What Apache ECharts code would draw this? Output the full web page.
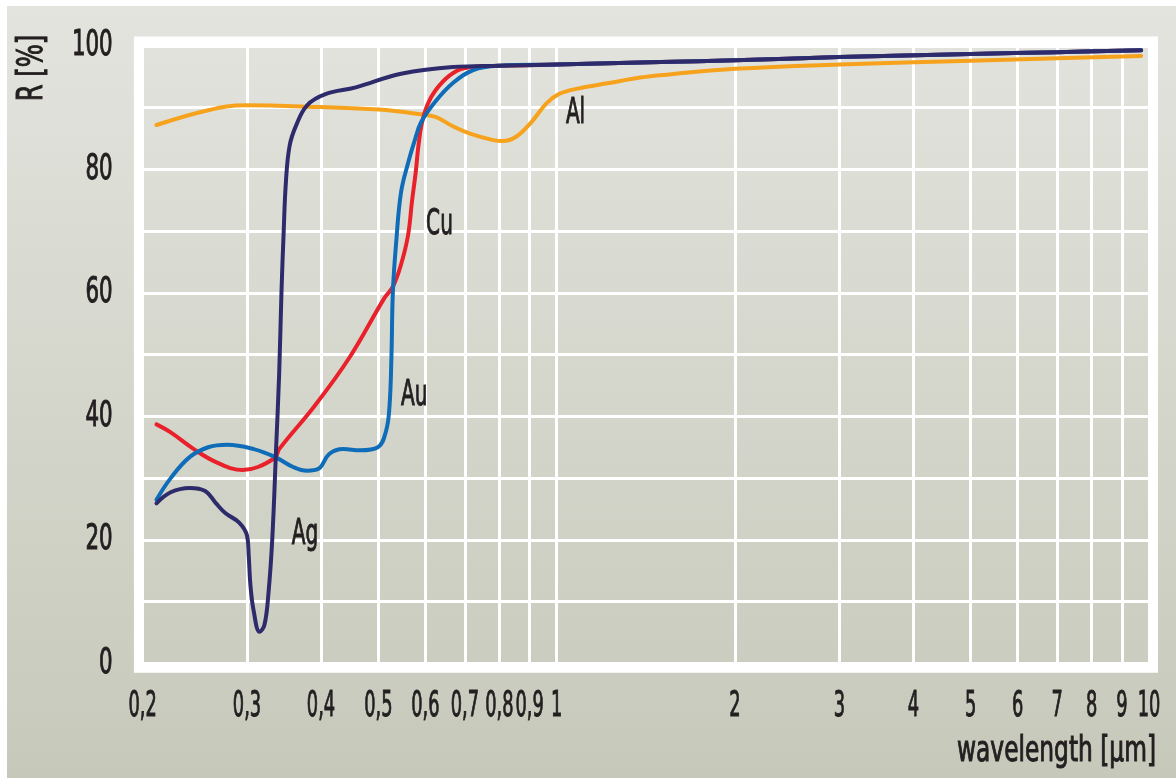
<!DOCTYPE html>
<html>
<head>
<meta charset="utf-8">
<title>Reflectance of metals</title>
<script src="https://cdn.jsdelivr.net/npm/echarts@6/dist/echarts.min.js"></script>
<style>
  html, body { margin: 0; padding: 0; background: #ffffff; }
  #chart { width: 1176px; height: 778px; }
</style>
</head>
<body>
<div id="chart"></div>
<script>
// Reflectance R [%] of metal mirror coatings versus wavelength [µm]

// Tick values on the logarithmic wavelength axis and on the reflectance axis
const waveTicks = [0.2, 0.3, 0.4, 0.5, 0.6, 0.7, 0.8, 0.9, 1, 2, 3, 4, 5, 6, 7, 8, 9, 10];
const reflTicks = [0, 20, 40, 60, 80, 100];

// Silver
const agWave = [0.211, 0.223, 0.240, 0.255, 0.266, 0.276, 0.291, 0.300, 0.302, 0.304, 0.308, 0.315, 0.321, 0.326, 0.331, 0.336, 0.340, 0.343, 0.346, 0.349, 0.354, 0.363, 0.379, 0.407, 0.458, 0.546, 0.668, 0.8, 1.0, 1.5, 2, 3, 5, 7, 9.7];
const agR    = [25.9, 27.7, 28.4, 27.9, 25.9, 24.3, 22.8, 20.7, 17.5, 12.7, 8.4, 5.1, 6.2, 11.2, 20.2, 35.0, 47.0, 60.0, 70.0, 78.0, 83.8, 87.1, 90.4, 92.2, 93.3, 95.5, 96.6, 96.8, 97.0, 97.4, 97.7, 98.2, 98.7, 99.0, 99.3];

// Copper
const cuWave = [0.211, 0.223, 0.244, 0.266, 0.295, 0.313, 0.335, 0.340, 0.391, 0.448, 0.512, 0.529, 0.546, 0.561, 0.570, 0.578, 0.584, 0.592, 0.605, 0.624, 0.659, 0.698, 0.8, 1.0, 1.5, 2, 3, 5, 7, 9.7];
const cuR    = [38.7, 37.4, 34.7, 32.6, 31.3, 31.8, 33.4, 34.7, 41.8, 49.7, 59.2, 61.0, 64.6, 69.3, 75.0, 79.5, 83.7, 87.5, 90.5, 92.8, 95.2, 96.4, 96.8, 97.0, 97.4, 97.7, 98.2, 98.7, 99.0, 99.3];

// Gold
const auWave = [0.211, 0.223, 0.240, 0.258, 0.278, 0.308, 0.335, 0.359, 0.379, 0.396, 0.413, 0.436, 0.466, 0.499, 0.515, 0.522, 0.526, 0.529, 0.536, 0.546, 0.561, 0.575, 0.590, 0.624, 0.668, 0.723, 0.8, 1.0, 1.5, 2, 3, 5, 7, 9.7];
const auR    = [26.5, 30.0, 33.4, 35.0, 35.4, 34.7, 33.4, 31.8, 31.2, 31.5, 33.9, 34.7, 34.5, 35.0, 37.6, 41.6, 49.7, 60.3, 68.4, 76.3, 81.0, 84.5, 87.6, 91.0, 94.0, 96.1, 96.8, 97.0, 97.4, 97.7, 98.2, 98.7, 99.0, 99.3];

// Aluminium
const alWave = [0.211, 0.258, 0.298, 0.4, 0.5, 0.584, 0.624, 0.668, 0.714, 0.778, 0.811, 0.854, 0.905, 0.961, 1.008, 1.085, 1.225, 1.384, 1.55, 2, 3, 5, 7, 9.7];
const alR    = [87.2, 89.6, 90.4, 90.1, 89.7, 89.0, 88.5, 87.0, 85.8, 84.8, 84.6, 85.3, 87.6, 90.7, 92.2, 93.1, 94.0, 94.9, 95.4, 96.3, 97.0, 97.6, 98.0, 98.4];

// Curve names and where they are written: [wavelength, reflectance]
const curveNames = ['Ag', 'Au', 'Cu', 'Al'];
const curveNameAt = [[0.376, 20.9], [0.575, 43.4], [0.634, 71.0], [1.076, 89.1]];

const FONT = "'DejaVu Sans Condensed', 'DejaVu Sans', sans-serif";
const INK = '#231f20';

function pairs(xs, ys) {
  return xs.map((x, i) => [x, ys[i]]);
}

function curve(name, xs, ys, color) {
  return {
    name: name,
    type: 'line',
    data: pairs(xs, ys),
    smooth: 0.4,
    showSymbol: false,
    symbol: 'none',
    silent: true,
    lineStyle: { color: color, width: 4, cap: 'round', join: 'round' },
    itemStyle: { color: color }
  };
}

function tickText(v) {
  return String(+v.toFixed(2)).replace('.', ',');
}

// Tall condensed lettering: a squeezed face with a hairline outline for weight
function label(text, x, y, align, squeeze, extra) {
  return Object.assign({
    type: 'text', z: 20, x: x, y: y, scaleX: squeeze, silent: true,
    style: {
      text: text, fill: INK, stroke: INK, lineWidth: 1,
      font: '36px ' + FONT, align: align, verticalAlign: 'middle'
    }
  }, extra || {});
}

const chart = echarts.init(document.getElementById('chart'), null, { renderer: 'canvas' });

chart.setOption({
  animation: false,
  backgroundColor: new echarts.graphic.LinearGradient(0, 0, 0, 1, [
    { offset: 0, color: '#e3e4de' },
    { offset: 1, color: '#c6c9ba' }
  ]),
  grid: { left: 142.7, right: 27, top: 46, bottom: 114.7, containLabel: false },
  xAxis: {
    type: 'log',
    logBase: 10,
    min: 0.2,
    max: 10,
    axisLine: { show: false },
    axisTick: { show: false, customValues: waveTicks },
    splitLine: { show: true, lineStyle: { color: '#ffffff', width: 3 } },
    axisLabel: { show: false, customValues: waveTicks }
  },
  yAxis: {
    type: 'value',
    min: 0,
    max: 100,
    interval: 10,
    axisLine: { show: false },
    axisTick: { show: false },
    splitLine: { show: true, lineStyle: { color: '#ffffff', width: 3 } },
    axisLabel: { show: false }
  },
  series: [
    curve('Al', alWave, alR, '#f6a21d'),
    curve('Cu', cuWave, cuR, '#e9212b'),
    curve('Au', auWave, auR, '#0e6cb8'),
    curve('Ag', agWave, agR, '#2d2b6b')
  ]
});

// Lettering placed through the axes' own scales
const toPx = (x, y) => chart.convertToPixel({ gridIndex: 0 }, [x, y]);
const texts = [
  { type: 'rect', z: 10, shape: { x: 0, y: 0, width: 1176, height: 6 }, style: { fill: '#ffffff' } },
  { type: 'rect', z: 10, shape: { x: 0, y: 0, width: 7, height: 778 }, style: { fill: '#ffffff' } },
  {
    type: 'rect', z: 10,
    shape: { x: 138.4, y: 40.9, width: 1015.1, height: 627.4 },
    style: { fill: 'none', stroke: '#ffffff', lineWidth: 9 }
  }
];
const bottomY = toPx(0.2, 0)[1];
const leftX = toPx(0.2, 0)[0];
waveTicks.forEach(v => {
  texts.push(label(tickText(v), toPx(v, 0)[0], bottomY + 43, 'center', 0.55));
});
reflTicks.forEach(v => {
  texts.push(label(String(v), leftX - 30, toPx(0.2, v)[1], 'right', 0.66));
});
curveNames.forEach((n, i) => {
  const p = toPx(curveNameAt[i][0], curveNameAt[i][1]);
  texts.push(label(n, p[0], p[1], 'center', 0.62));
});
texts.push(label('R [%]', 33, 68, 'center', 0.75, { rotation: Math.PI / 2 }));
texts.push(label('wavelength [µm]', 1156, 752, 'right', 0.72));

chart.setOption({ graphic: texts });
</script>
</body>
</html>
